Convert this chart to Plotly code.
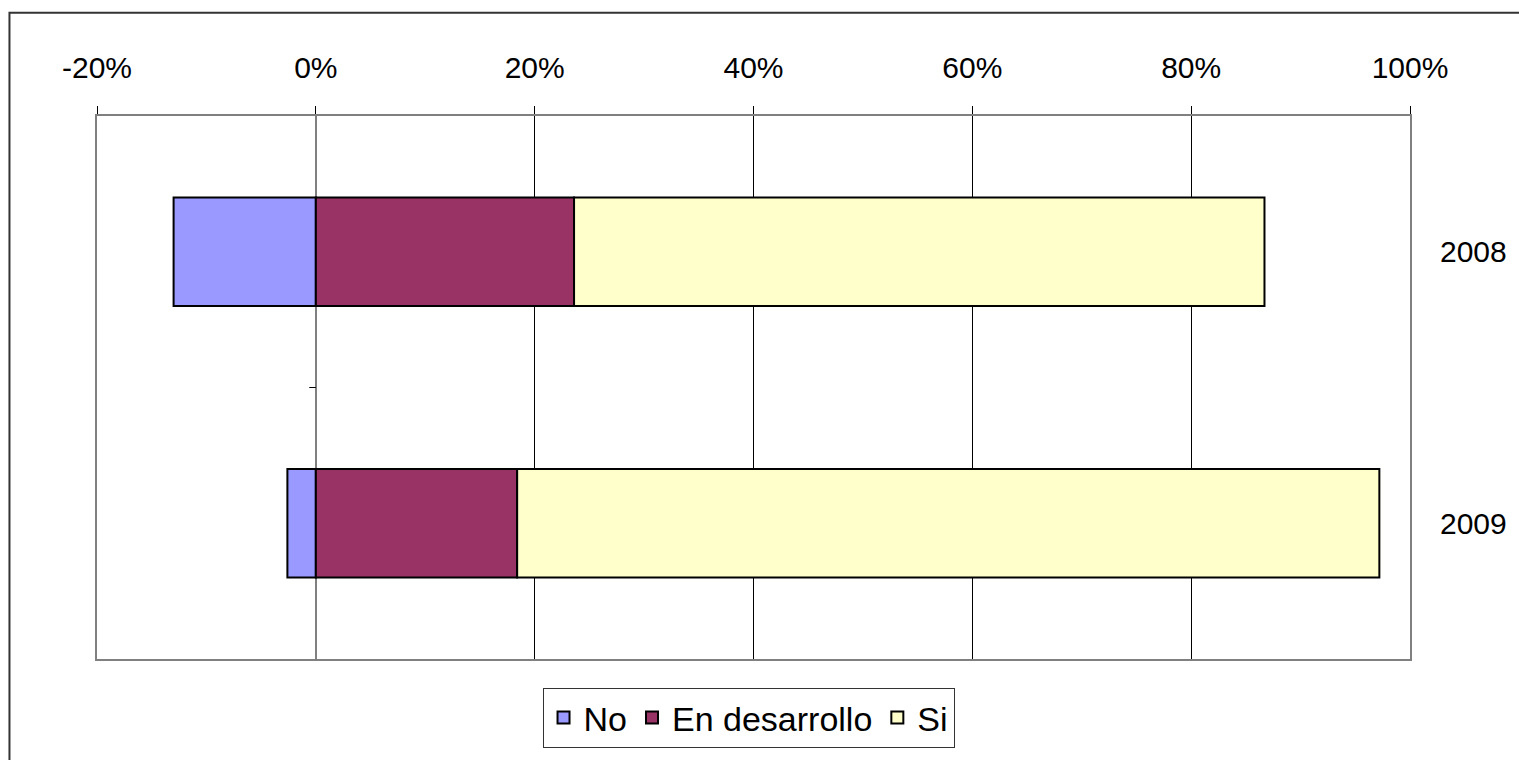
import plotly.graph_objects as go

years = ["2008", "2009"]
no_vals = [-0.130, -0.026]
dev_vals = [0.236, 0.184]
si_vals = [0.631, 0.788]
tick_vals = [-0.2, 0.0, 0.2, 0.4, 0.6, 0.8, 1.0]
tick_text = ["-20%", "0%", "20%", "40%", "60%", "80%", "100%"]

FONT = "Liberation Sans, Arial, sans-serif"

W, H = 1519, 760
L, T, R, B = 97, 116, 102, 97
PW, PH = W - L - R, H - T - B

fig = go.Figure()
for name, vals, color in [("No", no_vals, "#9999FF"),
                          ("En desarrollo", dev_vals, "#993366"),
                          ("Si", si_vals, "#FFFFCC")]:
    fig.add_trace(go.Bar(
        y=years, x=vals, name=name, orientation="h",
        marker=dict(color=color, line=dict(color="#000000", width=2)),
    ))

fig.update_layout(
    width=W, height=H,
    barmode="relative", bargap=0.6,
    paper_bgcolor="white", plot_bgcolor="white",
    margin=dict(l=L, r=R, t=T, b=B),
    font=dict(family=FONT, color="#000000"),
    showlegend=True,
    legend=dict(
        orientation="h", x=(752 - L) / PW, xanchor="center",
        y=-(692 - (H - B)) / PH, yanchor="top",
        font=dict(size=34, family=FONT, color="#000000"),
        bordercolor="#333333", borderwidth=1, bgcolor="white",
        itemsizing="constant", traceorder="normal",
    ),
    xaxis=dict(
        side="top", range=[-0.2, 1.0], tickvals=tick_vals, ticktext=tick_text,
        showgrid=True, gridcolor="#000000", gridwidth=1,
        ticks="outside", ticklen=8, tickcolor="#000000", tickwidth=1,
        showline=True, linecolor="#808080", linewidth=2, mirror=True,
        zeroline=True, zerolinecolor="#808080", zerolinewidth=1.5,
        tickfont=dict(size=30, family=FONT, color="#000000"),
        ticklabelstandoff=16, fixedrange=True,
    ),
    yaxis=dict(
        side="right", autorange="reversed", type="category",
        showgrid=False, ticks="", showline=True, linecolor="#808080",
        linewidth=2, mirror=True,
        tickfont=dict(size=30, family=FONT, color="#000000"),
        ticklabelstandoff=22, fixedrange=True,
    ),
)

# small category separator tick on the vertical (0%) axis
fig.add_shape(type="line", xref="x", yref="y", x0=-0.006, x1=0, y0=0.5, y1=0.5,
              line=dict(color="#000000", width=1))

# outer chart border
fig.add_shape(type="rect", xref="paper", yref="paper",
              x0=(9 - L) / PW, x1=1.3, y0=-0.5, y1=1 + (T - 12) / PH,
              line=dict(color="#333333", width=2), fillcolor="rgba(0,0,0,0)",
              layer="below")

fig.write_html(
    "out.html",
    config={"displayModeBar": False},
    post_script="document.body.style.margin='0';document.body.style.overflow='hidden';",
)
